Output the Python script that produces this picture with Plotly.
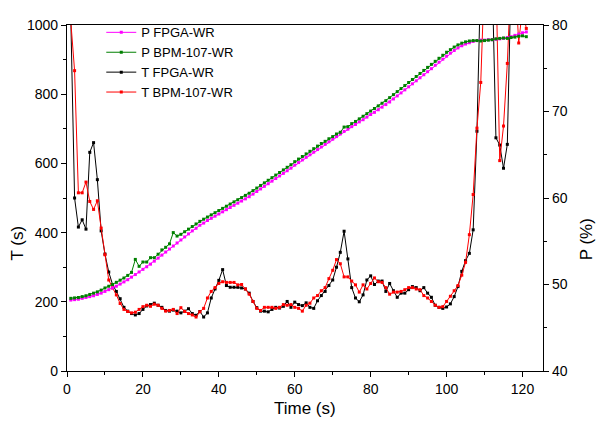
import plotly.graph_objects as go

# time axis (s), one sample per second
time_s = list(range(1, 122))

# P (%) series
p_fpga = [48.2, 48.25, 48.3, 48.4, 48.5, 48.6, 48.7, 48.85, 49.0, 49.2,
          49.4, 49.6, 49.8, 50.05, 50.3, 50.55, 50.85, 51.15, 51.45, 51.75,
          52.05, 52.35, 52.7, 53.05, 53.4, 53.75, 54.1, 54.45, 54.8, 55.15,
          55.5, 55.85, 56.2, 56.5, 56.85, 57.1, 57.4, 57.65, 57.9, 58.15,
          58.4, 58.65, 58.9, 59.15, 59.4, 59.65, 59.9, 60.15, 60.45, 60.75,
          61.05, 61.35, 61.65, 61.95, 62.25, 62.55, 62.85, 63.15, 63.45, 63.8,
          64.1, 64.4, 64.7, 65.0, 65.3, 65.6, 65.9, 66.2, 66.5, 66.8,
          67.1, 67.4, 67.7, 67.95, 68.25, 68.5, 68.8, 69.05, 69.35, 69.65,
          69.9, 70.2, 70.5, 70.8, 71.1, 71.45, 71.8, 72.15, 72.5, 72.85,
          73.2, 73.55, 73.9, 74.25, 74.6, 74.95, 75.35, 75.7, 76.05, 76.4,
          76.75, 77.05, 77.35, 77.6, 77.8, 77.95, 78.1, 78.2, 78.25, 78.25,
          78.3, 78.3, 78.35, 78.4, 78.45, 78.55, 78.65, 78.8, 78.95, 79.1,
          79.2]
p_bpm = [48.4, 48.45, 48.5, 48.6, 48.7, 48.85, 49.0, 49.15, 49.35, 49.6,
         49.8, 50.0, 50.25, 50.5, 50.75, 51.05, 51.4, 52.9, 52.1, 52.6,
         52.6, 53.1, 53.1, 53.5, 54.0, 54.3, 54.7, 56.0, 55.6, 55.8,
         56.1, 56.4, 56.7, 57.0, 57.3, 57.55, 57.8, 58.05, 58.3, 58.55,
         58.8, 59.05, 59.3, 59.55, 59.8, 60.05, 60.3, 60.55, 60.85, 61.15,
         61.45, 61.75, 62.05, 62.35, 62.65, 62.95, 63.25, 63.55, 63.85, 64.2,
         64.5, 64.8, 65.1, 65.4, 65.7, 66.0, 66.3, 66.55, 66.85, 67.1,
         67.4, 67.6, 68.2, 68.25, 68.6, 68.85, 69.15, 69.45, 69.75, 70.05,
         70.35, 70.65, 70.95, 71.25, 71.6, 71.95, 72.3, 72.65, 73.0, 73.35,
         73.7, 74.05, 74.4, 74.75, 75.1, 75.45, 75.8, 76.15, 76.5, 76.85,
         77.15, 77.45, 77.7, 77.9, 78.05, 78.15, 78.2, 78.2, 78.15, 78.2,
         78.25, 78.3, 78.4, 78.45, 78.5, 78.45, 78.55, 78.6, 78.7, 78.75,
         78.65]

# T (s) series
t_fpga = [1020, 500, 416, 437, 410, 632, 660, 553, 405, 338,
          286, 250, 230, 209, 184, 173, 166, 162, 166, 178,
          188, 192, 196, 190, 184, 175, 173, 176, 173, 168,
          173, 180, 166, 161, 172, 156, 168, 211, 237, 262,
          293, 247, 242, 242, 242, 240, 237, 225, 201, 183,
          173, 173, 171, 178, 184, 182, 187, 201, 184, 199,
          192, 189, 197, 184, 181, 203, 218, 230, 247, 263,
          300, 343, 404, 324, 241, 211, 200, 220, 263, 275,
          250, 260, 260, 230, 253, 232, 213, 225, 225, 235,
          244, 241, 232, 241, 225, 213, 190, 184, 181, 185,
          194, 215, 244, 288, 319, 340, 408, 693, 1150, 1150,
          1150, 1150, 674, 653, 586, 655, 1150, 1150, 1150, 1150,
          1150]
t_bpm = [1010, 868, 515, 515, 546, 490, 467, 492, 413, 336,
         263, 240, 220, 195, 178, 172, 168, 170, 178, 186,
         190, 187, 193, 190, 181, 173, 175, 178, 166, 183,
         172, 166, 162, 156, 171, 181, 211, 230, 241, 253,
         258, 256, 256, 256, 249, 250, 237, 222, 201, 181,
         175, 184, 184, 184, 181, 184, 192, 190, 192, 184,
         181, 173, 190, 196, 211, 218, 232, 241, 267, 291,
         322, 310, 272, 272, 260, 249, 228, 249, 237, 253,
         269, 258, 256, 241, 222, 228, 228, 230, 235, 241,
         241, 237, 235, 218, 211, 201, 190, 184, 186, 201,
         216, 232, 247, 277, 314, 394, 510, 702, 834, 1150,
         1150, 1150, 1150, 608, 708, 889, 1150, 1150, 948, 1050,
         990]

FONT = "Arial, Liberation Sans, sans-serif"

fig = go.Figure()

def add_series(y, name, color, axis):
    fig.add_trace(go.Scatter(
        x=time_s, y=y, name=name, yaxis=axis,
        mode="lines+markers",
        line=dict(color=color, width=1),
        marker=dict(symbol="square", size=3, color=color),
    ))

add_series(p_fpga, "P FPGA-WR", "#ff00ff", "y2")
add_series(p_bpm, "P BPM-107-WR", "#008000", "y2")
add_series(t_fpga, "T FPGA-WR", "#000000", "y")
add_series(t_bpm, "T BPM-107-WR", "#ff0000", "y")

axis_common = dict(
    showline=True, linecolor="black", linewidth=1.2,
    ticks="outside", ticklen=5, tickwidth=1.2, tickcolor="black",
    showgrid=False, zeroline=False,
    tickfont=dict(family=FONT, size=14, color="black"),
)

# page body adds an 8px margin, so the figure is sized to fit inside it
fig.update_layout(
    width=590, height=409,
    margin=dict(l=59, r=55, t=9, b=46),
    paper_bgcolor="white", plot_bgcolor="white",
    showlegend=True,
    legend=dict(x=0.072, y=1.022, xanchor="left", yanchor="top",
                bgcolor="rgba(0,0,0,0)", borderwidth=0,
                font=dict(family=FONT, size=13, color="black"),
                tracegroupgap=0),
    xaxis=dict(range=[0, 125.4], dtick=20, mirror=True,
               minor=dict(dtick=10, ticks="outside", ticklen=3, tickcolor="black"),
               **axis_common),
    yaxis=dict(range=[0, 1000], dtick=200,
               minor=dict(dtick=100, ticks="outside", ticklen=3, tickcolor="black"),
               **axis_common),
    yaxis2=dict(range=[40, 80], dtick=10, overlaying="y", side="right",
                minor=dict(dtick=5, ticks="outside", ticklen=3, tickcolor="black"),
                **axis_common),
    annotations=[
        dict(text="Time (s)", xref="paper", yref="paper", x=0.5, y=-0.109,
             showarrow=False, xanchor="center", yanchor="middle",
             font=dict(family=FONT, size=17, color="black")),
        dict(text="T (s)", xref="paper", yref="paper", x=-0.102, y=0.37,
             textangle=-90, showarrow=False, xanchor="center", yanchor="middle",
             font=dict(family=FONT, size=17, color="black")),
        dict(text="P (%)", xref="paper", yref="paper", x=1.092, y=0.38,
             textangle=-90, showarrow=False, xanchor="center", yanchor="middle",
             font=dict(family=FONT, size=17, color="black")),
    ],
)

fig.write_html("out.html")
